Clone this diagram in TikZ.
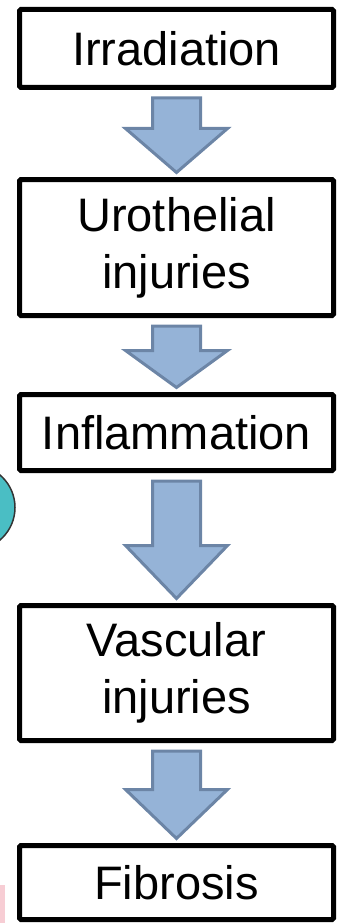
\documentclass[tikz,border=0pt]{standalone}
\usepackage{fontspec}
\setmainfont{Liberation Sans}
\usetikzlibrary{calc}
\definecolor{arrowfill}{RGB}{149,179,215}
\definecolor{arrowline}{RGB}{108,133,166}
\definecolor{tealfill}{RGB}{74,190,196}
\definecolor{pinkish}{RGB}{244,184,194}
\tikzset{
  stepbox/.style={draw=black, line width=5pt, rounded corners=1.5pt, fill=white,
    inner sep=0pt, align=center, font=\fontsize{47}{57}\selectfont},
  blockarrow/.style={draw=arrowline, fill=arrowfill, line width=3pt, line join=miter, miter limit=4}
}
\newcommand\flowarrow[3]{%
  \path[blockarrow] let \p1=(#1.south), \p2=(#2.north) in
    (\x1-24pt,\y1-8pt) -- (\x1+24pt,\y1-8pt) -- (\x1+24pt,\y2+#3) --
    (\x1+51pt,\y2+#3) -- (\x1,\y2+4.5pt) -- (\x1-51pt,\y2+#3) --
    (\x1-24pt,\y2+#3) -- cycle;}
\begin{document}
\begin{tikzpicture}[x=1pt,y=-1pt]
\useasboundingbox (0,0) rectangle (337,923);
\begin{scope}
  \clip (0,0) rectangle (337,923);
  \draw[draw=black!80, line width=1.5pt, fill=tealfill] (-27.7,507.5) circle (42.7);
  \fill[pinkish, opacity=0.7] (0,885) rectangle (5,923);
\end{scope}
\node[stepbox, minimum width=314pt, minimum height=78pt] (irr) at (176.5,48.5) {Irradiation};
\node[stepbox, minimum width=314pt, minimum height=136pt] (uro) at (176.5,247.5) {Urothelial\\injuries};
\node[stepbox, minimum width=314pt, minimum height=76pt] (inf) at (176.5,432.5) {Inflammation};
\node[stepbox, minimum width=314pt, minimum height=135pt] (vas) at (176.5,673) {Vascular\\injuries};
\node[stepbox, minimum width=314pt, minimum height=74pt] (fib) at (176.5,882.5) {Fibrosis};
\flowarrow{irr}{uro}{48.5pt}
\flowarrow{uro}{inf}{41.5pt}
\flowarrow{inf}{vas}{57.5pt}
\flowarrow{vas}{fib}{53.5pt}
\end{tikzpicture}
\end{document}
